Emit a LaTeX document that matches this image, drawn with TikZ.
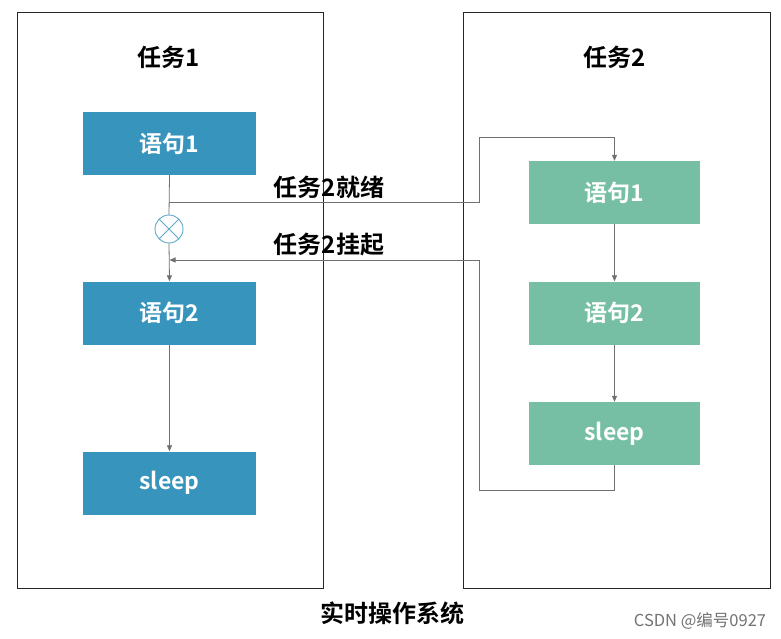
\documentclass[tikz,border=0pt]{standalone}
\usepackage{fontspec}
\setmainfont{Noto Sans CJK SC}
\newfontfamily\cjkb{Noto Sans CJK SC Bold}
\usetikzlibrary{arrows.meta}
\definecolor{blueb}{HTML}{3794BC}
\definecolor{greenb}{HTML}{76BFA4}
\definecolor{linec}{HTML}{707070}
\begin{document}
\begin{tikzpicture}[x=1pt,y=-1pt,
  frame/.style={draw=black!85,line width=0.9pt},
  bbox/.style={fill=blueb,minimum width=173pt,minimum height=63pt,inner sep=0pt,text=white,font=\cjkb\fontsize{23}{23}\selectfont},
  gbox/.style={fill=greenb,minimum width=171pt,minimum height=63pt,inner sep=0pt,text=white,font=\cjkb\fontsize{23}{23}\selectfont},
  title/.style={font=\cjkb\fontsize{24}{24}\selectfont,text=black},
  conn/.style={draw=linec,line width=0.8pt},
  arr/.style={conn,-{Triangle[length=6pt,width=5pt]}}]
\useasboundingbox (0,0) rectangle (781,639);
\fill[white] (0,0) rectangle (781,639);
\draw[frame] (17,12) rectangle (323,588);
\draw[frame] (463,12) rectangle (770,588);
\node[title] (t1) at (169,57) {任务1};
\node[title] (t2) at (615,57) {任务2};
\node[bbox] (a1) at (169.5,143.5) {语句1};
\node[bbox] (a2) at (169.5,313) {语句2};
\node[bbox] (a3) at (169.5,483) {sleep};
\node[gbox] (b1) at (614.5,192.5) {语句1};
\node[gbox] (b2) at (614.5,313) {语句2};
\node[gbox] (b3) at (614.5,433.5) {sleep};
\node[circle,draw=blueb!80,line width=0.9pt,minimum size=28pt,inner sep=0pt,
  path picture={\draw[blueb!80,line width=0.9pt] (path picture bounding box.north west)--(path picture bounding box.south east) (path picture bounding box.north east)--(path picture bounding box.south west);}] (x) at (169,229) {};
\coordinate (r1) at (169,202);
\coordinate (r2) at (479,202);
\coordinate (r3) at (479,137);
\coordinate (r4) at (614.5,137);
\draw[conn] (a1.south) -- (x.north);
\draw[arr] (x.south) -- (a2.north);
\draw[arr] (r1) -- (r2) -- (r3) -- (r4) -- (b1.north);
\draw[arr] (b1.south) -- (b2.north);
\draw[arr] (b2.south) -- (b3.north);
\draw[arr] (a2.south) -- (a3.north);
\coordinate (s1) at (614.5,490);
\coordinate (s2) at (479,490);
\coordinate (s3) at (479,260);
\coordinate (s4) at (169.5,260);
\draw[arr] (b3.south) -- (s1) -- (s2) -- (s3) -- (s4);
\node[title] (l1) at (329,187) {任务2就绪};
\node[title] (l2) at (329,245) {任务2挂起};
\node[title] (cap) at (392,613) {实时操作系统};
\node[font=\fontsize{16.5}{16.5}\selectfont,text=black!55] (wm) at (700,621) {CSDN @编号0927};
\end{tikzpicture}
\end{document}
